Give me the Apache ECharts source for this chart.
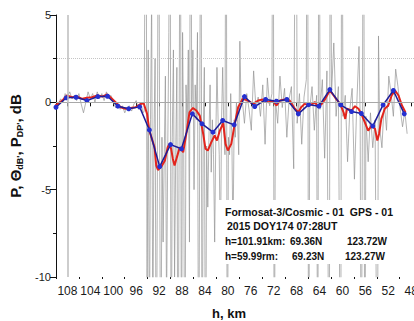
<!DOCTYPE html>
<html>
<head>
<meta charset="utf-8">
<script src="https://cdn.jsdelivr.net/npm/echarts@6/dist/echarts.min.js"></script>
<style>
  html, body { margin: 0; padding: 0; background: #fff; }
  #chart { width: 414px; height: 321px; }
</style>
</head>
<body>
<div id="chart"></div>
<script>
// x axis: altitude h (km), drawn decreasing to the right
const xMajor = [48, 52, 56, 60, 64, 68, 72, 76, 80, 84, 88, 92, 96, 100, 104, 108];
const xMinor = [50, 54, 58, 62, 66, 70, 74, 78, 82, 86, 90, 94, 98, 102, 106, 110];

// blue: smoothed profile (with dots)
const hBlue = [110.0, 108.2, 106.5, 104.6, 102.7, 101.0, 99.2, 97.3, 95.4, 93.7, 91.9, 90.0,
  88.1, 86.2, 84.5, 82.6, 80.9, 78.9, 77.1, 75.3, 73.4, 71.5, 69.7, 67.7, 65.9, 64.1, 62.2,
  60.3, 58.4, 56.7, 54.7, 52.9, 51.1, 49.2];
const pBlue = [-0.28, 0.26, 0.29, 0.10, 0.33, 0.35, -0.22, -0.37, -0.26, -1.58, -3.68, -2.42,
  -2.66, -0.66, -1.23, -1.71, -1.04, -1.29, 0.33, -0.24, 0.16, 0.06, 0.16, -0.66, -0.13, -0.22, 0.73,
  -0.14, -0.53, -0.64, -1.36, -0.15, 0.68, -0.66];

// red: finer profile
const hRed = [110.1, 108.9, 108.1, 107.2, 106.3, 105.4, 104.6, 103.7, 102.8, 101.9,
  101.1, 100.5, 99.6, 98.7, 97.9, 97.0, 96.1, 95.2, 94.7, 94.1,
  93.7, 92.8, 92.5, 92.2, 91.6, 91.0, 90.5, 90.2, 89.9, 89.6,
  89.3, 88.9, 88.4, 87.8, 87.2, 86.7, 86.1, 85.5, 84.9, 84.3,
  83.9, 83.5, 82.9, 82.3, 81.9, 81.4, 80.8, 80.4, 80.0, 79.4,
  78.8, 78.2, 77.4, 76.5, 75.6, 74.7, 73.9, 73.0, 72.1, 71.5,
  70.9, 70.1, 69.2, 68.3, 67.7, 67.2, 66.6, 65.7, 64.8, 64.2,
  63.6, 63.0, 62.2, 61.3, 60.4, 59.8, 59.5, 59.2, 58.4, 57.8,
  57.2, 56.7, 56.1, 55.5, 54.9, 54.3, 53.9, 53.6, 53.2, 52.6,
  52.0, 51.4, 50.8, 50.2, 49.6, 49.0];
const pRed = [-0.18, 0.10, 0.39, 0.29, 0.33, 0.20, 0.26, 0.29, 0.39, 0.33,
  0.45, 0.29, 0.01, -0.28, -0.37, -0.32, -0.28, -0.09, -0.05, -0.66,
  -1.62, -2.57, -3.62, -3.87, -3.68, -3.34, -2.57, -2.38, -2.66, -3.24,
  -3.62, -3.15, -2.57, -2.86, -1.71, -0.57, -0.32, -0.47, -0.76, -1.81,
  -2.66, -2.76, -2.29, -1.90, -2.19, -1.62, -1.20, -2.38, -2.76, -2.38,
  -1.23, -0.28, 0.20, 0.10, -0.09, 0.10, 0.16, 0.01, 0.05, -0.18,
  0.10, 0.16, 0.10, -0.37, -0.57, -0.28, -0.09, -0.18, 0.01, -0.28,
  -0.09, 0.20, 0.68, 0.29, -0.09, -0.57, -0.95, -0.37, -0.47, -0.22,
  -0.37, -0.66, -1.14, -1.62, -1.33, -1.52, -2.19, -1.81, -0.95, -0.37,
  -0.18, 0.39, 0.68, 0.39, -0.18, -0.57];

// gray: raw noisy profile (off-scale spikes get clipped by the grid)
const hGray = [
  110.0, 109.6, 109.2, 108.8, 108.4, 108.0, 107.6, 107.2, 106.8, 106.4, 106.0, 105.6, 105.2,
  104.8, 104.4, 104.0, 103.6, 103.2, 102.8, 102.4, 102.0, 101.6, 101.2, 100.8, 100.4, 100.0,
  99.6, 99.2, 98.8, 98.4, 98.0, 97.6, 97.2, 96.8, 96.4, 96.0, 95.6, 95.2, 94.8,
  94.6, 94.3, 94.1, 93.9, 93.7, 93.5, 93.3, 93.1, 92.9, 92.7, 92.5, 92.3, 92.1, 91.9, 91.7,
  91.5, 91.3, 91.1, 90.9, 90.7, 90.5, 90.3, 90.1, 89.9, 89.7, 89.5, 89.3, 89.1, 88.9, 88.7,
  88.5, 88.3, 88.1, 87.9, 87.7, 87.5, 87.3, 87.1, 86.9, 86.7, 86.5, 86.3, 86.1, 85.9, 85.7,
  85.5, 85.3, 85.1, 84.9, 84.7, 84.5, 84.3, 84.1, 83.9, 83.7, 83.5, 83.3, 83.1, 82.9, 82.7,
  82.5, 82.3, 82.1, 81.9, 81.7, 81.5, 81.3, 81.1, 80.9, 80.7, 80.5, 80.3, 80.1, 79.9, 79.7,
  79.5, 79.3, 79.1, 78.9, 78.7, 78.5, 78.3, 78.1, 77.9, 77.7,
  77.5, 77.1, 76.7, 76.3, 75.9, 75.5, 75.1, 74.7, 74.3, 73.9, 73.5, 73.1, 72.7, 72.3, 72.1,
  71.9, 71.7, 71.3, 70.9, 70.5, 70.1, 69.7, 69.3, 68.9, 68.5, 68.1, 67.9, 67.5, 67.1, 66.7,
  66.3, 66.1, 65.9, 65.7, 65.3, 64.9, 64.5, 64.3, 64.1, 63.9, 63.5, 63.1, 62.7, 62.3, 62.1,
  61.9, 61.5, 61.1, 60.7, 60.3, 60.1, 59.9, 59.5, 59.1, 58.7, 58.3, 57.9, 57.5, 57.1, 56.9,
  56.7, 56.3, 56.1, 55.9, 55.5, 55.1, 54.7, 54.3, 53.9, 53.7, 53.5, 53.1, 52.7, 52.3, 51.9,
  51.5, 51.1, 50.7, 50.3, 49.9, 49.5, 49.1, 48.7];
const pGray = [
  -0.4, -0.1, 0.2, 0.0, 0.5, 0.3, 0.6, 0.2, 0.4, 0.1, 0.5, -0.1, -0.6,
  0.0, 0.6, 0.2, 0.5, 0.0, 0.6, 0.2, 0.5, 0.1, 0.6, 0.3, 0.4, 0.0,
  -0.3, -0.1, -0.4, -0.2, -0.6, -0.3, -0.2, -0.5, -0.1, 0.1, -0.4, 0.0, -0.6,
  -0.5, 20, -12, 3, -15, -1, 6, -14, -2, 2.5, -20, -4, 20, -3.5, -20,
  -2, -8, -3, 1.5, -12, -3, 4, 20, -20, -2, 3, -10, -3, 2, -20,
  -2, 20, -20, 4, -3, -20, 1, -1.5, 3, -8, 20, -0.3, 3, -5, 1,
  -1, 4, -20, -1, 20, -20, -2, 2, -20, -2.5, -6, -2, 1, -4, -1,
  -3, -8, -2, 2, -1, -3, -9, -1, 2, -1.5, -3, 20, -20, -2, -3,
  0.5, -2, -8, -1, -2, 0, -1, -3, 3.5, 0,
  0.2, -1.2, 0.5, -0.4, -1.6, 1.8, -0.3, 0.3, -0.8, 1.0, -2.4, 1.4, -0.2, 0.5, 20,
  -20, 0.2, -1.2, 1.5, -0.3, 0.8, -2.0, 0.2, 0.9, -3.8, 20, -1.2, 0.5, -2.4, 0.3,
  1.3, 20, -20, -0.4, 0.9, -1.6, 0.4, -20, 20, -0.4, 1.3, -3.2, 1.8, -20, 20,
  0.5, 3.4, -0.8, 0.9, -20, 20, -0.8, 0.4, -3.4, -0.4, 0.8, -4.4, -0.2, 3.2, -0.8,
  -20, 20, -20, -0.8, -3.4, -0.6, -2.6, -1.0, -20, 3.8, -1.4, -2.6, 0, -1.6, 1.5,
  0.5, -0.8, 1.9, 0.9, -0.4, -1.4, -0.5, -1.8];

const zip = (xs, ys) => xs.map((x, i) => [x, ys[i]]);

const chart = echarts.init(document.getElementById('chart'), null, { renderer: 'svg' });

const FONT = '"Liberation Sans", Arial, sans-serif';
const TXT = 'bold 10.5px ' + FONT;
const TXT2 = 'bold 10px ' + FONT;

chart.setOption({
  animation: false,
  backgroundColor: '#fff',
  grid: { left: 56, right: 0, top: 15, bottom: 44, containLabel: false, outerBoundsMode: 'none' },
  xAxis: [
    {
      type: 'value',
      inverse: true,
      min: 47.5,
      max: 110,
      axisLine: { lineStyle: { color: '#111', width: 1 } },
      axisTick: { customValues: xMajor, length: 4, lineStyle: { color: '#111' } },
      axisLabel: { customValues: xMajor, fontSize: 12, color: '#1a1a1a', fontFamily: FONT, margin: 8, hideOverlap: false },
      splitLine: { show: false }
    },
    {
      type: 'value',
      inverse: true,
      position: 'bottom',
      min: 47.5,
      max: 110,
      axisLine: { show: false },
      axisTick: { customValues: xMinor, length: 2, lineStyle: { color: '#111' } },
      axisLabel: { show: false },
      splitLine: { show: false }
    }
  ],
  yAxis: {
    type: 'value',
    min: -10,
    max: 5,
    interval: 5,
    axisLine: { show: true, lineStyle: { color: '#111', width: 1 } },
    axisTick: { show: true, length: 6, lineStyle: { color: '#111' } },
    minorTick: { show: true, splitNumber: 2, length: 3, lineStyle: { color: '#111' } },
    axisLabel: { fontSize: 11, color: '#1a1a1a', fontFamily: FONT, margin: 5 },
    splitLine: { show: false },
    name: '{a|P, Θ}{s|dB\'}{a|, P}{s|DP\'}{a|, dB}',
    nameLocation: 'middle',
    nameRotate: 90,
    nameGap: 28,
    nameTextStyle: {
      rich: {
        a: { fontSize: 15, fontWeight: 'bold', fontFamily: FONT, color: '#111', lineHeight: 18 },
        s: { fontSize: 9, fontWeight: 'bold', fontFamily: FONT, color: '#111', lineHeight: 10, verticalAlign: 'bottom' }
      }
    }
  },
  series: [
    {
      type: 'line',
      data: zip(hGray, pGray),
      showSymbol: false,
      lineStyle: { color: '#939393', width: 0.7 },
      z: 2,
      silent: true,
      markLine: {
        silent: true,
        symbol: 'none',
        label: { show: false },
        data: [
          { yAxis: 0, lineStyle: { color: '#a8a8a8', width: 1, type: 'solid' } },
          { yAxis: 2.5, lineStyle: { color: '#c4c4c4', width: 1, type: 'dotted' } },
          { xAxis: 108, lineStyle: { color: '#bdbdbd', width: 1.5, type: 'solid' } }
        ]
      }
    },
    {
      type: 'line',
      data: zip(hRed, pRed),
      showSymbol: false,
      lineStyle: { color: '#e3241c', width: 2 },
      z: 3
    },
    {
      type: 'line',
      data: zip(hBlue, pBlue),
      symbol: 'circle',
      symbolSize: 5,
      itemStyle: { color: '#2530d0' },
      lineStyle: { color: '#1d1d98', width: 1.5 },
      z: 4
    }
  ],
  graphic: [
    { type: 'rect', shape: { x: 218, y: 200, width: 190, height: 64 }, style: { fill: '#fff' }, z: 100 },
    { type: 'text', x: 225, y: 212, z: 101,
      style: { text: 'Formosat-3/Cosmic - 01  GPS - 01', font: TXT, fill: '#111', verticalAlign: 'middle' } },
    { type: 'text', x: 227, y: 226, z: 101,
      style: { text: '2015 DOY174 07:28UT', font: TXT, fill: '#111', verticalAlign: 'middle' } },
    { type: 'text', x: 225, y: 241, z: 101,
      style: { text: 'h=101.91km:', font: TXT2, fill: '#111', verticalAlign: 'middle' } },
    { type: 'text', x: 290, y: 241, z: 101,
      style: { text: '69.36N', font: TXT2, fill: '#111', verticalAlign: 'middle' } },
    { type: 'text', x: 347, y: 241, z: 101,
      style: { text: '123.72W', font: TXT2, fill: '#111', verticalAlign: 'middle' } },
    { type: 'text', x: 225, y: 256, z: 101,
      style: { text: 'h=59.99rm:', font: TXT2, fill: '#111', verticalAlign: 'middle' } },
    { type: 'text', x: 292, y: 256, z: 101,
      style: { text: '69.23N', font: TXT2, fill: '#111', verticalAlign: 'middle' } },
    { type: 'text', x: 345, y: 256, z: 101,
      style: { text: '123.27W', font: TXT2, fill: '#111', verticalAlign: 'middle' } },
    { type: 'text', x: 229, y: 313, z: 101,
      style: { text: 'h, km', font: 'bold 13px ' + FONT, fill: '#111', align: 'center', verticalAlign: 'middle' } }
  ]
});
</script>
</body>
</html>
